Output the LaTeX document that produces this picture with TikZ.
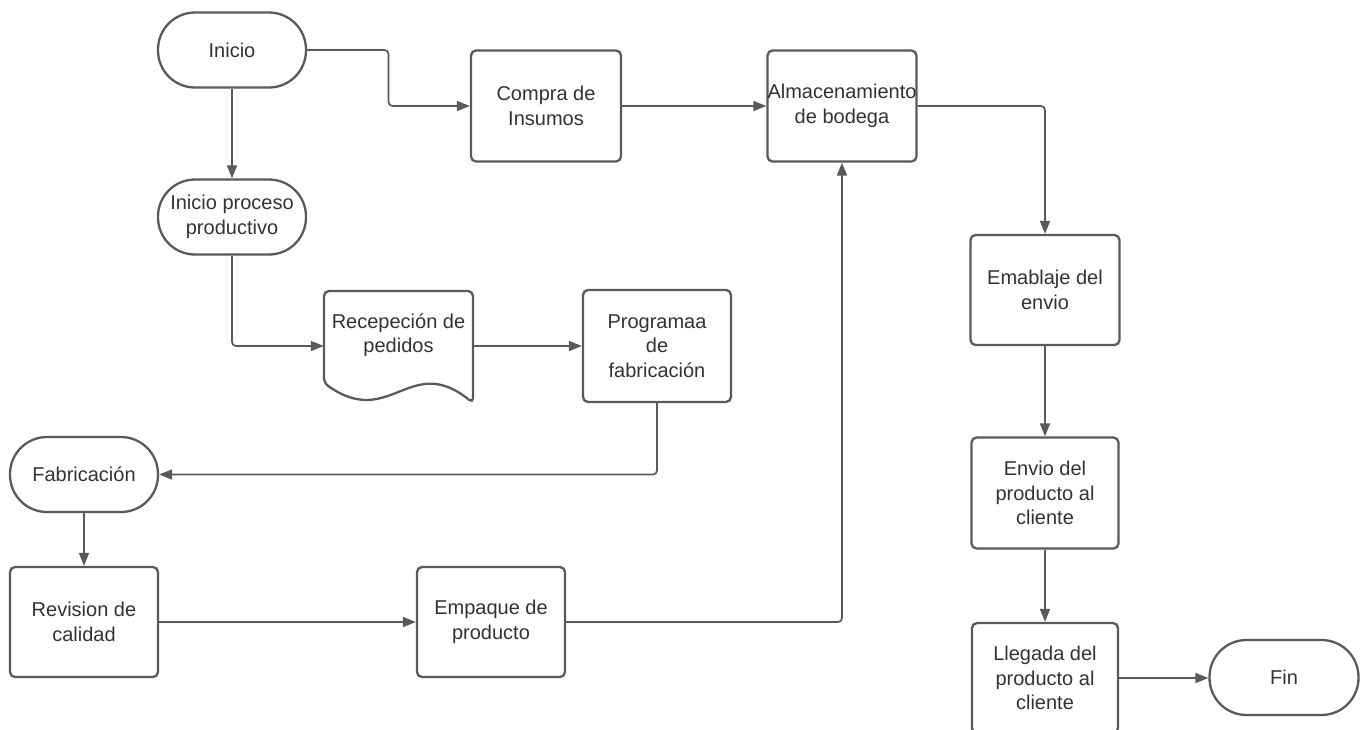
\documentclass[tikz,border=0pt]{standalone}
\usepackage{fontspec}
\setmainfont{Liberation Sans}
\usetikzlibrary{arrows.meta,calc}
\definecolor{linecol}{HTML}{5A5A5A}
\definecolor{txtcol}{HTML}{333333}
\begin{document}
\begin{tikzpicture}[x=1pt,y=-1pt,
  every node/.style={font=\fontsize{20}{24.5}\selectfont, text=txtcol, align=center, inner sep=0pt},
  procbox/.style={draw=linecol, line width=2.3pt, rounded corners=5pt, fill=white, minimum width=148pt, minimum height=110pt},
  stadium/.style={draw=linecol, line width=2.3pt, rounded corners=37pt, fill=white, minimum width=148pt, minimum height=75pt},
  docshape/.style={draw=none, minimum width=149pt, minimum height=110pt},
  conn/.style={draw=linecol, line width=1.7pt, rounded corners=4pt, -{Triangle[length=13pt,width=10pt]}},
  shapeline/.style={draw=linecol, line width=2.3pt, rounded corners=5pt, fill=white}
]
\useasboundingbox (0,0) rectangle (1366,729);
\fill[white] (0,0) rectangle (1366,729);

\node[stadium] (inicio) at (232,50) {Inicio};
\node[stadium] (proc) at (232,217) {Inicio proceso\\productivo};
\node[procbox, minimum width=150pt, minimum height=111pt] (compra) at (546,106) {Compra de\\Insumos};
\node[procbox, minimum width=149pt, minimum height=111pt] (alm) at (842,106) {Almacenamiento\\de bodega};
\node[docshape] (recep) at (398.5,346) {};
\draw[shapeline, shift={(recep.center)}] (-74.5,37) -- (-74.5,-55) -- (74.5,-55) -- (74.5,57) .. controls (11.5,6) and (-8.5,84) .. (-74.5,37) -- cycle;
\node (receptxt) at (398.5,335) {Recepeción de\\pedidos};
\node[procbox, minimum height=112pt] (prog) at (657,346) {Programaa\\de\\fabricación};
\node[stadium] (fab) at (84,474.5) {Fabricación};
\node[procbox] (rev) at (84,622) {Revision de\\calidad};
\node[procbox] (emp) at (491,622) {Empaque de\\producto};
\node[procbox, minimum width=149pt] (emb) at (1045,290) {Emablaje del\\envio};
\node[procbox, minimum width=147pt, minimum height=111pt] (env) at (1045,493) {Envio del\\producto al\\cliente};
\node[procbox, minimum width=146pt] (lleg) at (1045,678) {Llegada del\\producto al\\cliente};
\node[stadium, minimum width=149pt] (fin) at (1284,677.5) {Fin};

\draw[conn] (inicio.east) -| ($(inicio.east)!0.5!(compra.west)$) |- (compra.west);
\draw[conn] (inicio.south) -- (proc.north);
\draw[conn] (compra.east) -- (alm.west);
\draw[conn] (alm.east) -| (emb.north);
\draw[conn] (proc.south) |- (recep.west);
\draw[conn] (recep.east) -- (prog.west);
\draw[conn] (prog.south) |- (fab.east);
\draw[conn] (fab.south) -- (rev.north);
\draw[conn] (rev.east) -- (emp.west);
\draw[conn] (emp.east) -| (alm.south);
\draw[conn] (emb.south) -- (env.north);
\draw[conn] (env.south) -- (lleg.north);
\draw[conn] (lleg.east) -- (lleg.east -| fin.west);
\end{tikzpicture}
\end{document}
